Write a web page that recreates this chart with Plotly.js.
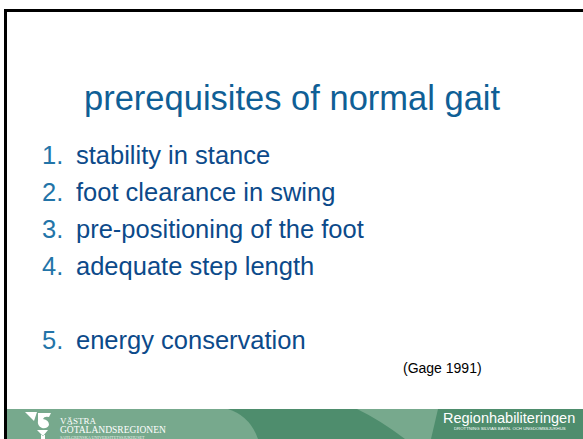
<!DOCTYPE html>
<html>
<head>
<meta charset="utf-8">
<script src="https://cdn.plot.ly/plotly-3.0.1.min.js"></script>
<style>html,body{margin:0;padding:0;background:#fff;}#chart{width:583px;height:439px;}</style>
</head>
<body>
<div id="chart"></div>
<script>
// ---- content ----
const titleText = "prerequisites of normal gait";
const itemNumbers = ["1.", "2.", "3.", "4.", "5."];
const itemTexts = ["stability in stance", "foot clearance in swing", "pre-positioning of the foot", "adequate step length", "energy conservation"];
const itemRows = [155, 192, 229, 266, 340];
const citation = "(Gage 1991)";
const orgLines = ["VÄSTRA", "GÖTALANDSREGIONEN", "SAHLGRENSKA UNIVERSITETSSJUKHUSET"];
const brand = "Regionhabiliteringen";
const brandSub = "DROTTNING SILVIAS BARN- OCH UNGDOMSSJUKHUS";

// ---- styles ----
const SANS = "Liberation Sans, Arial, sans-serif";
const SERIF = "Liberation Serif, DejaVu Serif, serif";
const titleColor = "#0f5f96";
const numColor = "#2274a8";
const textColor = "#0c4a8a";
const darkGreen = "#4e8d6d";
const lightGreen = "#77a98d";

const annotations = [];
annotations.push({x: 292, y: 98, xref: "x", yref: "y", text: titleText, showarrow: false,
  xanchor: "center", yanchor: "middle", font: {family: SANS, size: 34.5, color: titleColor}});
itemTexts.forEach((t, i) => {
  annotations.push({x: 40, y: itemRows[i], xref: "x", yref: "y", text: itemNumbers[i], showarrow: false,
    xanchor: "left", yanchor: "middle", font: {family: SANS, size: 25.5, color: numColor}});
  annotations.push({x: 74, y: itemRows[i], xref: "x", yref: "y", text: t, showarrow: false,
    xanchor: "left", yanchor: "middle", font: {family: SANS, size: 25.5, color: textColor}});
});
annotations.push({x: 401, y: 368, xref: "x", yref: "y", text: citation, showarrow: false,
  xanchor: "left", yanchor: "middle", font: {family: SANS, size: 14, color: "#000"}});
annotations.push({x: 59, y: 420.5, xref: "x", yref: "y", text: orgLines[0], showarrow: false, borderpad: 0,
  xanchor: "left", yanchor: "middle", font: {family: SERIF, size: 9, color: "#fff"}});
annotations.push({x: 59, y: 429.5, xref: "x", yref: "y", text: orgLines[1], showarrow: false, borderpad: 0,
  xanchor: "left", yanchor: "middle", font: {family: SERIF, size: 9.5, color: "#fff"}});
annotations.push({x: 59, y: 437.5, xref: "x", yref: "y", text: orgLines[2], showarrow: false, borderpad: 0,
  xanchor: "left", yanchor: "middle", font: {family: SERIF, size: 4.2, color: "#e8f0ea"}});
annotations.push({x: 577, y: 418, xref: "x", yref: "y", text: brand, showarrow: false,
  xanchor: "right", yanchor: "middle", font: {family: SANS, size: 14.5, color: "#fff"}});
annotations.push({x: 567, y: 428.5, xref: "x", yref: "y", text: brandSub, showarrow: false, borderpad: 0,
  xanchor: "right", yanchor: "middle", font: {family: SANS, size: 4.3, color: "#fff"}});

const shapes = [
  // footer band
  {type: "rect", xref: "x", yref: "y", x0: 7, x1: 583, y0: 409, y1: 439, fillcolor: darkGreen, line: {width: 0}, layer: "below"},
  {type: "path", xref: "x", yref: "y", path: "M 7 409 L 228 409 Q 250 416 258 439 L 7 439 Z", fillcolor: lightGreen, line: {width: 0}, layer: "below"},
  {type: "path", xref: "x", yref: "y", path: "M 357 409 L 438 409 L 431 439 L 405 439 Q 380 420 357 409 Z", fillcolor: lightGreen, line: {width: 0}, layer: "below"},
  // logo
  {type: "path", xref: "x", yref: "y", path: "M 25 412 L 37 412 L 34 421 Z", fillcolor: "#fff", line: {width: 0}},
  {type: "path", xref: "x", yref: "y", path: "M 38 413 L 51 413 L 49 417 Q 44 416 43 419 Q 49 420 49 425 Q 47 429 42 428 Q 37 426 38 420 Z", fillcolor: "#fff", line: {width: 0}},
  {type: "path", xref: "x", yref: "y", path: "M 37 430 L 48 430 L 43 436 Z M 41 435 L 45 435 L 45 439 L 41 439 Z", fillcolor: "#fff", line: {width: 0}},
  // slide frame
  {type: "line", xref: "x", yref: "y", x0: 5.5, x1: 5.5, y0: 9, y1: 439, line: {color: "#000", width: 3}},
  {type: "line", xref: "x", yref: "y", x0: 4, x1: 583, y0: 10.5, y1: 10.5, line: {color: "#000", width: 3}}
];

const layout = {
  width: 583, height: 439,
  margin: {l: 0, r: 0, t: 0, b: 0},
  paper_bgcolor: "#fff", plot_bgcolor: "#fff",
  xaxis: {range: [0, 583], visible: false, fixedrange: true},
  yaxis: {range: [439, 0], visible: false, fixedrange: true},
  showlegend: false,
  annotations: annotations,
  shapes: shapes
};
Plotly.newPlot("chart", [], layout, {staticPlot: true, displayModeBar: false});
</script>
</body>
</html>
